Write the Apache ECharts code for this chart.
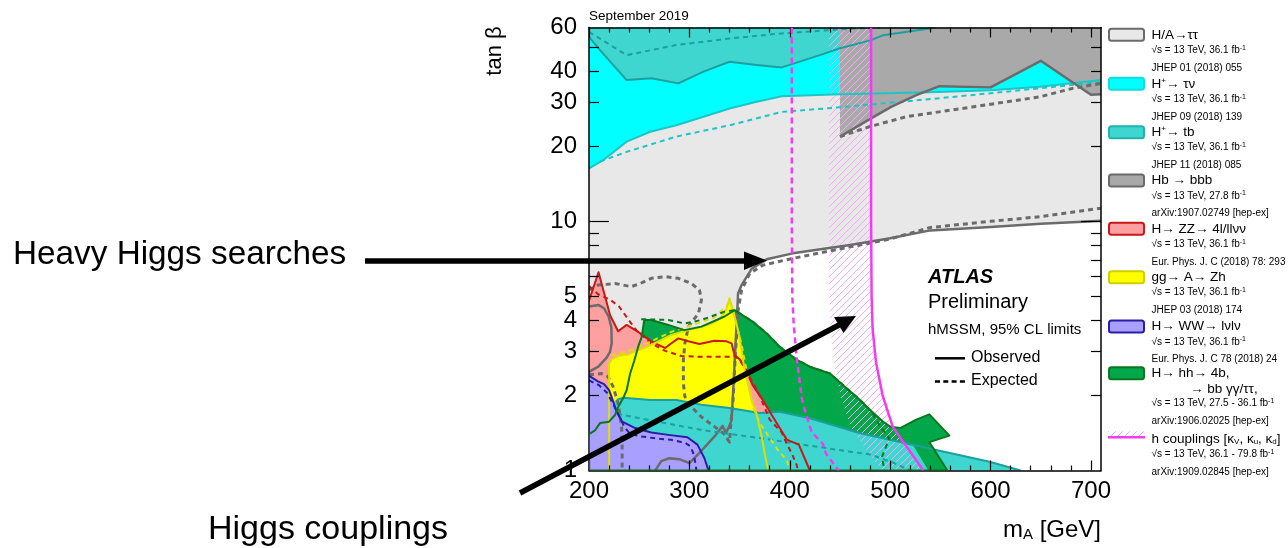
<!DOCTYPE html>
<html>
<head>
<meta charset="utf-8">
<script src="https://cdn.jsdelivr.net/npm/echarts@6/dist/echarts.min.js"></script>
<style>
html,body{margin:0;padding:0;background:#fff;}
#chart{width:1288px;height:548px;}
</style>
</head>
<body>
<div id="chart"></div>
<script>
// ---- axes ----
const xRange = [200, 710];
const yRange = [1, 60];
const xTickLabels = [200, 300, 400, 500, 600, 700];
const xMinorTicks = [220, 240, 260, 280, 320, 340, 360, 380, 420, 440, 460, 480, 520, 540, 560, 580, 620, 640, 660, 680];
const yTickLabels = [1, 2, 3, 4, 5, 10, 20, 30, 40, 60];
const yMinorTicks = [2, 3, 4, 5, 6, 7, 8, 9, 20, 30, 40, 50];
const yMajorTicks = [10];

// ---- contours: [mA (GeV), tan beta] ----
// H/A -> tautau
const haObs = [[266,1.0],[272,1.09],[280,1.12],[290,1.11],[300,1.07],[312,1.2],[325,1.37],[333,1.51],[336.5,1.42],[339.5,1.5],[341.9,1.59],[343.5,2.04],[345.2,2.78],[346.9,3.78],[348.5,5.14],[352,5.55],[362,6.45],[377,7.04],[403,7.44],[460,8.03],[500,8.55],[540,9.2],[600,9.5],[650,9.78],[692,9.96],[710,10.05]];
const haObsIsland = [[200,4.55],[209.3,4.62],[215,4.48],[219.5,4.15],[222.3,3.75],[222.6,3.24],[221,3.0],[217.6,2.84],[209.3,2.61],[200,2.49]];
const haExp = [[200,5.3],[209,5.55],[226,5.63],[242,5.47],[251,5.63],[262,5.91],[276,6.0],[289,5.91],[302,5.63],[310,5.3],[312,4.83],[309,4.27],[299,3.78],[295.5,3.24],[294,2.78],[294,2.24],[295.5,1.98],[302,1.8],[312,1.64],[325,1.5],[334,1.41],[340,1.3],[341,1.5],[343.5,1.92],[345.5,2.78],[348.5,4.4],[352,5.3],[360,6.17],[373,6.67],[403,7.1],[460,7.9],[500,8.5],[540,9.45],[600,10.0],[650,10.45],[710,11.3]];
const haExpLow = [[200,2.42],[212.6,2.45],[219,2.38],[224,2.17],[229,1.86],[232.5,1.5],[233,1.25],[233,1.0]];
// H+ -> tau nu
const tnObs = [[200,16.3],[214,17.6],[237.5,20.9],[261,22.9],[287,24.3],[314,26.3],[340,28.4],[367,30.2],[392,31.8],[450,32.4],[540,33.0],[600,33.6],[649,34.7],[710,36.9]];
const tnExp = [[211,17.4],[237.5,19.0],[287,21.9],[340,24.3],[392,27.5],[450,28.7],[549,31.2],[649,34.2],[710,36.3]];
// H+ -> tb (high tan beta)
const tbObs = [[200,55.0],[211,48.7],[237.5,36.9],[262,37.5],[289,35.8],[314,39.9],[340,43.7],[367,42.4],[392,41.5],[430,46.5],[450,49.5],[481,53.4],[493,55.9],[539,59.5],[545,60]];
const tbExp = [[200,57.6],[237.5,46.5],[287,51.0],[340,54.2],[392,56.8],[460,59.3],[490,60]];
// H+ -> tb (low tan beta)
const tbLowObs = [[227.5,1.92],[234,1.96],[261,1.92],[287,1.92],[314,1.83],[340,1.78],[370,1.70],[390,1.72],[420,1.62],[460,1.45],[470,1.41],[599,1.085],[630,1.0]];
const tbLowExp = [[228,1.69],[261,1.59],[314,1.45],[370,1.35],[460,1.19],[480,1.16],[503,1.075],[520,1.0]];
// Hb -> bbb
const hbObs = [[450,21.9],[481,25.9],[501,28.8],[526,32.1],[549,34.9],[600,34.5],[650,44.1],[700,32.2],[710,32.4]];
const hbExp = [[450,21.9],[479.5,24.0],[516,26.3],[582,28.8],[649,31.6],[682,34.2],[710,35.8]];
// H -> ZZ
const zzObs = [[200,4.8],[209.5,6.25],[221,4.2],[229,3.62],[237.5,3.84],[249,3.6],[262,3.3],[276,3.1],[281,3.22],[289,3.39],[299,3.3],[310,3.22],[325,3.32],[337,3.3],[342,3.24],[345,2.9],[350,2.8],[355,2.6],[363,2.2],[373,1.92],[384,1.62],[390,1.48],[397,1.33],[409,1.27],[420,1.0]];
const zzExp = [[200,5.5],[209,5.1],[221,4.85],[230,4.55],[239,4.05],[248,3.62],[262,3.24],[276,3.02],[292,2.88],[310,2.86],[340,2.86],[345,2.88],[350,2.78],[357,2.5],[370,2.0],[380,1.6],[392,1.42],[397,1.28],[402,1.17],[407,1.05],[408,1.0]];
// gg -> A -> Zh
const zhObs = [[220,1.0],[220,2.68],[222.6,2.79],[229,2.88],[239,2.92],[249,3.04],[262,3.19],[272,3.34],[282,3.5],[295.5,3.63],[309,3.74],[322,3.88],[330,4.05],[337,4.45],[340,4.91],[343.5,4.4],[350,3.44],[355,2.53],[362,1.92],[367,1.68],[372,1.37],[375,1.17],[378.5,1.0]];
const zhExp = [[222,2.9],[240,3.02],[262,3.3],[282,3.6],[304,3.85],[324,4.1],[337,4.55],[340,4.8],[345,4.14],[352,3.2],[358,2.4],[363.4,1.8],[370,1.55],[377,1.41],[388,1.21],[397,1.1],[400,1.0]];
// H -> WW
const wwObs = [[200,2.4],[209,2.28],[215,2.22],[220,2.1],[223,1.95],[227.5,1.72],[233,1.57],[246,1.48],[262,1.42],[279,1.39],[298,1.36],[308,1.27],[315,1.12],[319,1.0]];
const wwExp = [[200,2.3],[210,2.2],[218,2.05],[224,1.85],[230,1.66],[235,1.5],[241,1.4],[252,1.37],[270,1.34],[281,1.33],[296,1.29],[301,1.25],[304,1.17],[306,1.07],[307,1.0]];
// H -> hh
const hhObs = [[200,1.4],[206,1.45],[211,1.55],[220,1.57],[226,1.67],[229,1.8],[234,1.95],[237.5,2.1],[241,2.45],[245,2.75],[249,3.14],[252.5,3.44],[255,4.02],[262,4.02],[279,3.84],[295,3.66],[312,3.78],[335,4.15],[345,4.4],[363,3.96],[377,3.55],[390,3.14],[407,2.78],[420,2.61],[440,2.45],[456,2.15],[470,1.92],[480,1.75],[493,1.57],[500,1.5],[510,1.48],[526,1.6],[539,1.68],[559,1.38],[539,1.3],[557,1.0]];
const hhLobe = [[505,1.49],[510,1.48],[526,1.6],[539,1.68],[559,1.38],[539,1.3],[557,1.0],[538,1.0],[522,1.28]];
const hhExp = [[252,4.05],[279,4.02],[295.5,3.89],[312,4.02],[335,4.34],[345,4.4],[363,3.96],[377,3.55],[390,3.14],[407,2.78],[420,2.61],[440,2.45],[456,2.15],[470,1.92],[480,1.75],[486,1.6],[490,1.5],[499,1.35],[496,1.25],[492,1.14],[494,1.0]];
// h couplings
const hcObs = [[481,60],[481,10],[481.5,5],[482.5,3.7],[486,2.7],[492.5,2.0],[502.5,1.5],[516,1.25],[526,1.1],[533,1.0]];
const hcExp = [[402,60],[402,10],[402.5,5],[404,3.8],[407,2.8],[412,1.95],[417,1.64],[422,1.42],[433,1.28],[436,1.17],[447,1.02],[449,1.0]];
const hcBandWidth = 42; // GeV, width of the hatched side of the couplings contour

const FONT = "'Liberation Sans', Arial, Helvetica, sans-serif";

function hatchCanvas(color, size) {
  const c = document.createElement('canvas');
  c.width = size; c.height = size;
  const g = c.getContext('2d');
  g.strokeStyle = color; g.lineWidth = 1;
  g.beginPath();
  g.moveTo(0, size); g.lineTo(size, 0);
  g.moveTo(-2, 2); g.lineTo(2, -2);
  g.moveTo(size - 2, size + 2); g.lineTo(size + 2, size - 2);
  g.stroke();
  return c;
}
const hatch = hatchCanvas('#f5aaf5', 7);

let zCounter = 1;
function fillSeries(name, pts, fill) {
  return {
    type: 'custom', name: name, coordinateSystem: 'cartesian2d', silent: true, clip: true,
    z: zCounter++, data: [[300, 5]],
    renderItem: function (params, api) {
      return { type: 'polygon', shape: { points: pts.map(function (p) { return api.coord(p); }) },
               style: { fill: fill, stroke: null } };
    }
  };
}
function lineSeries(name, pts, color, width, dash) {
  return {
    type: 'custom', name: name, coordinateSystem: 'cartesian2d', silent: true, clip: true,
    z: 20 + zCounter++, data: [[300, 5]],
    renderItem: function (params, api) {
      return { type: 'polyline', shape: { points: pts.map(function (p) { return api.coord(p); }) },
               style: { fill: null, stroke: color, lineWidth: width, lineDash: dash || null, lineJoin: 'round' } };
    }
  };
}

const C = {
  haFill: '#e8e8e8', haLine: '#6b6b6b',
  tnFill: '#00ffff', tnLine: '#1cc6c6',
  tbFill: '#3fd6cf', tbLine: '#1b9f9f',
  hbFill: '#a9a9a9', hbLine: '#6b6b6b',
  zzFill: '#ffa0a0', zzLine: '#c81818',
  zhFill: '#ffff00', zhLine: '#dede00',
  wwFill: '#a99fff', wwLine: '#2a1ca8',
  hhFill: '#02a74a', hhLine: '#08781e',
  hcLine: '#f23cf2'
};

const dash = [5, 4];
const hcBand = hcObs.concat(hcObs.slice().reverse().map(function (p) { return [p[0] - hcBandWidth, p[1]]; }));

const series = [
  fillSeries('H/A→ττ', [[200, 60]].concat(haObsIsland, [[200, 1]], haObs, [[710, 60]]), C.haFill),
  fillSeries('H+→τν', [[200, 60]].concat(tnObs, [[710, 60]]), C.tnFill),
  fillSeries('H+→tb', [[200, 60]].concat(tbObs), C.tbFill),
  fillSeries('Hb→bbb', [[450, 60]].concat(hbObs, [[710, 60]]), C.hbFill),
  fillSeries('H→hh', [[200, 1]].concat(hhObs), C.hhFill),
  fillSeries('H→ZZ', [[200, 1]].concat(zzObs), C.zzFill),
  fillSeries('gg→A→Zh', zhObs, C.zhFill),
  fillSeries('H+→tb low', [[225, 1], [225, 1.9]].concat(tbLowObs), C.tbFill),
  fillSeries('H→hh lobe', hhLobe, C.hhFill),
  fillSeries('H→WW', [[200, 1]].concat(wwObs), C.wwFill),
  fillSeries('h couplings', hcBand, { image: hatch, repeat: 'repeat' }),

  lineSeries('tb exp', tbExp, C.tbLine, 2, dash),
  lineSeries('tb obs', tbObs, C.tbLine, 2),
  lineSeries('tn exp', tnExp, C.tnLine, 2, dash),
  lineSeries('tn obs', tnObs, C.tnLine, 2),
  lineSeries('hb exp', hbExp, C.hbLine, 3, dash),
  lineSeries('hb obs', hbObs, C.hbLine, 2.5),
  lineSeries('ha exp', haExp, C.haLine, 3, dash),
  lineSeries('ha exp low', haExpLow, C.haLine, 3, dash),
  lineSeries('ha obs', haObs, C.haLine, 2.5),
  lineSeries('ha obs island', haObsIsland, C.haLine, 2.5),
  lineSeries('tb low exp', tbLowExp, C.tbLine, 2, dash),
  lineSeries('tb low obs', tbLowObs, C.tbLine, 2),
  lineSeries('zz exp', zzExp, C.zzLine, 2, dash),
  lineSeries('zz obs', zzObs, C.zzLine, 2),
  lineSeries('zh exp', zhExp, C.zhLine, 2, dash),
  lineSeries('zh obs', zhObs, C.zhLine, 2),
  lineSeries('ww exp', wwExp, C.wwLine, 2, dash),
  lineSeries('ww obs', wwObs, C.wwLine, 2),
  lineSeries('hh exp', hhExp, C.hhLine, 2, dash),
  lineSeries('hh obs', [[557, 1], [200, 1]].concat(hhObs), C.hhLine, 2),
  lineSeries('hc exp', hcExp, C.hcLine, 2.5, [6, 4]),
  lineSeries('hc obs', hcObs, C.hcLine, 2.5)
];

function xAxisDef(pos, ticks, len, labels, lineShow) {
  return {
    type: 'value', min: xRange[0], max: xRange[1], position: pos, z: 50,
    axisLine: { show: lineShow, lineStyle: { color: '#000', width: 1.5 } },
    axisTick: { show: true, inside: true, length: len, customValues: ticks, lineStyle: { color: '#000', width: 1.2 } },
    axisLabel: labels ? { show: true, customValues: labels, fontFamily: FONT, fontSize: 24, color: '#000', margin: 9 } : { show: false },
    splitLine: { show: false }
  };
}
function yAxisDef(pos, ticks, len, labels, lineShow) {
  return {
    type: 'log', logBase: 10, min: yRange[0], max: yRange[1], position: pos, z: 50,
    axisLine: { show: lineShow, lineStyle: { color: '#000', width: 1.5 } },
    axisTick: { show: true, inside: true, length: len, customValues: ticks, lineStyle: { color: '#000', width: 1.2 } },
    axisLabel: labels ? { show: true, customValues: labels, fontFamily: FONT, fontSize: 24, color: '#000', margin: 12,
                          formatter: function (v) { return String(Math.round(v)); } } : { show: false },
    splitLine: { show: false }
  };
}

const sup = { fontSize: 7, verticalAlign: 'top', fontFamily: FONT, fill: '#000', padding: [0, 0, 5, 0] };

const legendRows = [
  { y: 34.3, title: 'H/A→ττ', fill: C.haFill, stroke: C.haLine, lines: ['√s = 13 TeV, 36.1 fb{sup|-1}', 'JHEP 01 (2018) 055'] },
  { y: 83.3, title: 'H{tsup|+}→ τν', fill: C.tnFill, stroke: '#12dcdc', lines: ['√s = 13 TeV, 36.1 fb{sup|-1}', 'JHEP 09 (2018) 139'] },
  { y: 131.7, title: 'H{tsup|+}→ tb', fill: C.tbFill, stroke: '#1fb3b0', lines: ['√s = 13 TeV, 36.1 fb{sup|-1}', 'JHEP 11 (2018) 085'] },
  { y: 180, title: 'Hb → bbb', fill: C.hbFill, stroke: C.hbLine, lines: ['√s = 13 TeV, 27.8 fb{sup|-1}', 'arXiv:1907.02749 [hep-ex]'] },
  { y: 228.3, title: 'H→ ZZ→ 4l/llνν', fill: C.zzFill, stroke: C.zzLine, lines: ['√s = 13 TeV, 36.1 fb{sup|-1}', 'Eur. Phys. J. C (2018) 78: 293'] },
  { y: 276.7, title: 'gg→ A→ Zh', fill: C.zhFill, stroke: '#cfcf00', lines: ['√s = 13 TeV, 36.1 fb{sup|-1}', 'JHEP 03 (2018) 174'] },
  { y: 326, title: 'H→ WW→ lνlν', fill: C.wwFill, stroke: C.wwLine, lines: ['√s = 13 TeV, 36.1 fb{sup|-1}', 'Eur. Phys. J. C 78 (2018) 24'] },
  { y: 372.7, title: 'H→ hh→ 4b,', fill: C.hhFill, stroke: C.hhLine, extra: '→ bb γγ/ττ,', lines: ['√s = 13 TeV, 27.5 - 36.1 fb{sup|-1}', 'arXiv:1906.02025 [hep-ex]'] },
  { y: 438.3, title: 'h couplings [κ{tsub|V}, κ{tsub|u}, κ{tsub|d}]', hatchLine: true, lines: ['√s = 13 TeV, 36.1 - 79.8 fb{sup|-1}', 'arXiv:1909.02845 [hep-ex]'] }
];

const graphics = [];
const titleRich = {
  tsup: { fontSize: 8, verticalAlign: 'top', fontFamily: FONT, fill: '#000' },
  tsub: { fontSize: 8, verticalAlign: 'bottom', fontFamily: FONT, fill: '#000' }
};
legendRows.forEach(function (r) {
  if (r.hatchLine) {
    graphics.push({ type: 'rect', shape: { x: 1108, y: r.y - 7, width: 37, height: 6 }, style: { fill: { image: hatch, repeat: 'repeat' } }, z: 60 });
    graphics.push({ type: 'line', shape: { x1: 1108, y1: r.y - 1, x2: 1145, y2: r.y - 1 }, style: { stroke: C.hcLine, lineWidth: 2.5 }, z: 61 });
  } else {
    graphics.push({ type: 'rect', shape: { x: 1109, y: r.y - 5.5, width: 35, height: 12, r: 2.5 }, style: { fill: r.fill, stroke: r.stroke, lineWidth: 2 }, z: 60 });
  }
  graphics.push({ type: 'text', x: 1151.5, y: r.y + 0.5, z: 61,
    style: { text: r.title, rich: titleRich, fontFamily: FONT, fontSize: 13.5, fill: '#000', verticalAlign: 'middle', align: 'left' } });
  let yy = r.y + 16;
  if (r.extra) {
    graphics.push({ type: 'text', x: 1190, y: r.y + 17, z: 61,
      style: { text: r.extra, fontFamily: FONT, fontSize: 13.5, fill: '#000', verticalAlign: 'middle', align: 'left' } });
    yy = r.y + 31;
  }
  graphics.push({ type: 'text', x: 1151.5, y: yy, z: 61,
    style: { text: r.lines[0], rich: { sup: sup }, fontFamily: FONT, fontSize: 10, fill: '#000', verticalAlign: 'middle', align: 'left' } });
  graphics.push({ type: 'text', x: 1151.5, y: yy + 17.5, z: 61,
    style: { text: r.lines[1], fontFamily: FONT, fontSize: 10, fill: '#000', verticalAlign: 'middle', align: 'left' } });
});

// plot texts
graphics.push(
  { type: 'text', x: 589, y: 16.7, z: 61, style: { text: 'September 2019', fontFamily: FONT, fontSize: 13.5, fill: '#000', verticalAlign: 'middle' } },
  { type: 'text', x: 495, y: 51, rotation: Math.PI / 2, z: 61, style: { text: 'tan β', fontFamily: FONT, fontSize: 22, fill: '#000', align: 'center', verticalAlign: 'middle' } },
  { type: 'text', x: 1101, y: 530, z: 61, style: { text: 'm{xs|A} [GeV]', rich: { xs: { fontSize: 15, verticalAlign: 'bottom', fontFamily: FONT, fill: '#000' } }, fontFamily: FONT, fontSize: 24, fill: '#000', align: 'right', verticalAlign: 'middle' } },
  { type: 'text', x: 928, y: 277.5, z: 61, style: { text: 'ATLAS', fontFamily: FONT, fontSize: 20, fontWeight: 'bold', fontStyle: 'italic', fill: '#000', verticalAlign: 'middle' } },
  { type: 'text', x: 928, y: 302, z: 61, style: { text: 'Preliminary', fontFamily: FONT, fontSize: 20, fill: '#000', verticalAlign: 'middle' } },
  { type: 'text', x: 928, y: 330, z: 61, style: { text: 'hMSSM, 95% CL limits', fontFamily: FONT, fontSize: 15, fill: '#000', verticalAlign: 'middle' } },
  { type: 'line', z: 61, shape: { x1: 935, y1: 358.3, x2: 965, y2: 358.3 }, style: { stroke: '#000', lineWidth: 2.5 } },
  { type: 'text', x: 971, y: 358, z: 61, style: { text: 'Observed', fontFamily: FONT, fontSize: 16, fill: '#000', verticalAlign: 'middle' } },
  { type: 'line', z: 61, shape: { x1: 935, y1: 381.5, x2: 966, y2: 381.5 }, style: { stroke: '#000', lineWidth: 2.5, lineDash: [5, 3.3] } },
  { type: 'text', x: 971, y: 381, z: 61, style: { text: 'Expected', fontFamily: FONT, fontSize: 16, fill: '#000', verticalAlign: 'middle' } }
);

// annotations with arrows
graphics.push(
  { type: 'text', x: 13, y: 255, z: 70, style: { text: 'Heavy Higgs searches', fontFamily: FONT, fontSize: 33.3, fill: '#000', verticalAlign: 'middle' } },
  { type: 'line', z: 70, shape: { x1: 365, y1: 261, x2: 748, y2: 261 }, style: { stroke: '#000', lineWidth: 5.5 } },
  { type: 'polygon', z: 70, shape: { points: [[744, 251.5], [767, 260.5], [744, 270]] }, style: { fill: '#000' } },
  { type: 'text', x: 208, y: 530, z: 70, style: { text: 'Higgs couplings', fontFamily: FONT, fontSize: 34, fill: '#000', verticalAlign: 'middle' } },
  { type: 'line', z: 70, shape: { x1: 520, y1: 493, x2: 840, y2: 324.5 }, style: { stroke: '#000', lineWidth: 5.5 } },
  { type: 'polygon', z: 70, shape: { points: [[834, 317], [856, 316], [843.5, 333]] }, style: { fill: '#000' } }
);

const chart = echarts.init(document.getElementById('chart'), null, { renderer: 'canvas' });
chart.setOption({
  animation: false,
  backgroundColor: '#fff',
  grid: { left: 589, top: 27.5, width: 512, height: 443, show: false },
  xAxis: [
    xAxisDef('bottom', xTickLabels, 10, xTickLabels, true),
    xAxisDef('bottom', xMinorTicks, 5, null, false),
    xAxisDef('top', xTickLabels, 10, null, true),
    xAxisDef('top', xMinorTicks, 5, null, false)
  ],
  yAxis: [
    yAxisDef('left', yMinorTicks, 10, yTickLabels, true),
    yAxisDef('left', yMajorTicks, 20, null, false),
    yAxisDef('right', yMinorTicks, 10, null, true),
    yAxisDef('right', yMajorTicks, 20, null, false)
  ],
  series: series,
  graphic: graphics
});
</script>
</body>
</html>
